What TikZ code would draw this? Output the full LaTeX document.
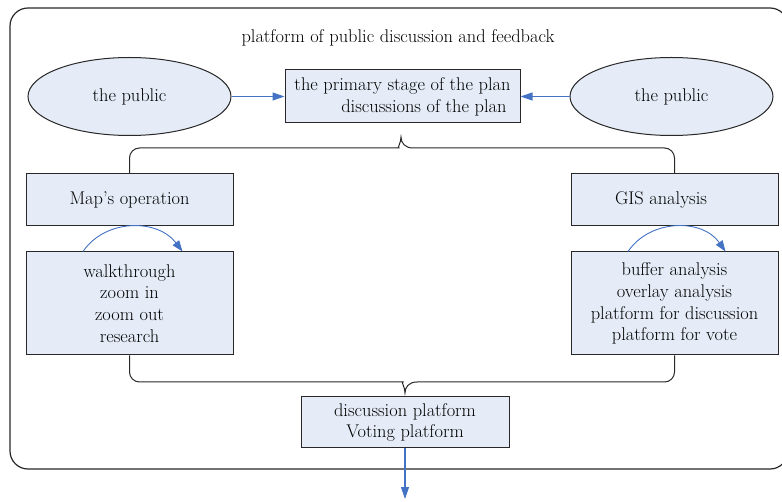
\documentclass[tikz,border=0pt]{standalone}
\usetikzlibrary{arrows.meta,calc,shapes.geometric}
\definecolor{boxfill}{RGB}{229,236,247}
\definecolor{arrowblue}{RGB}{68,114,196}
\definecolor{linegray}{RGB}{40,40,40}
\begin{document}
\begin{tikzpicture}[x=1pt,y=-1pt,
  every node/.style={font=\fontsize{18.4}{21.8}\selectfont},
  pbox/.style={draw=linegray,fill=boxfill,line width=1pt,inner sep=0pt,align=center},
  pell/.style={draw=linegray,fill=boxfill,ellipse,line width=1pt,inner sep=0pt,minimum width=203pt,minimum height=78pt},
  barrow/.style={draw=arrowblue,line width=1.1pt,-{Triangle[length=12pt,width=8pt]}},
  barc/.style={draw=arrowblue,line width=0.9pt,-{Triangle[length=11pt,width=8pt]}},
  bracel/.style={draw=linegray,line width=1pt}]
\clip (0,0) rectangle (782,502);
% outer frame
\draw[linegray,line width=1.2pt,rounded corners=18pt] (10,8) rectangle (788,469);
\node (title) at (398,38) {platform of public discussion and feedback};
% top row
\node[pell] (publicL) at (129.5,96.5) {the public};
\node[pell] (publicR) at (671.5,96.5) {the public};
\node[pbox,align=right,minimum width=235pt,minimum height=53pt] (plan) at (402.5,96.5)
  {the primary stage of the plan\\discussions of the plan\hspace*{4pt}};
\draw[barrow] (publicL.east) -- (plan.west);
\draw[barrow] (publicR.west) -- (plan.east);
% left column
\node[pbox,minimum width=207pt,minimum height=52pt] (mapop) at (129.5,200) {Map’s operation};
\node[pbox,minimum width=207pt,minimum height=103pt] (walk) at (129.5,303.5)
  {walkthrough\\zoom in\\zoom out\\research};
% right column
\node[pbox,minimum width=207pt,minimum height=52pt] (gis) at (674.5,200) {};
\node (gistext) at (661,200) {GIS analysis};
\node[pbox,minimum width=207pt,minimum height=103pt] (buffer) at (674.5,303.5)
  {buffer analysis\\overlay analysis\\platform for discussion\\platform for vote};
% bottom
\node[pbox,minimum width=208pt,minimum height=51pt] (bottom) at (405,422.5)
  {discussion platform\\Voting platform};
\coordinate (out) at (405,499);
\draw[barrow] (bottom.south) -- (out);
% curved arrows
\draw[barc] ($(walk.north)+(-46.5,0)$) .. controls ($(walk.north)+(-24,-33)$) and ($(walk.north)+(28,-33)$) .. ($(walk.north)+(53,0)$);
\draw[barc] ($(buffer.north)+(-46.5,0)$) .. controls ($(buffer.north)+(-24,-33)$) and ($(buffer.north)+(28,-33)$) .. ($(buffer.north)+(51,0)$);
% top brace
\coordinate (tt) at (401,137);
\draw[bracel] (mapop.north) [rounded corners=10pt] |- ($(tt)+(-12,11)$) [sharp corners]
  .. controls ($(tt)+(-4,11)$) and ($(tt)+(0,6)$) .. (tt)
  .. controls ($(tt)+(0,6)$) and ($(tt)+(4,11)$) .. ($(tt)+(12,11)$)
  [rounded corners=10pt] -| (gis.north);
% bottom brace
\coordinate (bt) at (405,393);
\draw[bracel] (walk.south) [rounded corners=10pt] |- ($(bt)+(-12,-11)$) [sharp corners]
  .. controls ($(bt)+(-4,-11)$) and ($(bt)+(0,-6)$) .. (bt)
  .. controls ($(bt)+(0,-6)$) and ($(bt)+(4,-11)$) .. ($(bt)+(12,-11)$)
  [rounded corners=10pt] -| (buffer.south);
\end{tikzpicture}
\end{document}
